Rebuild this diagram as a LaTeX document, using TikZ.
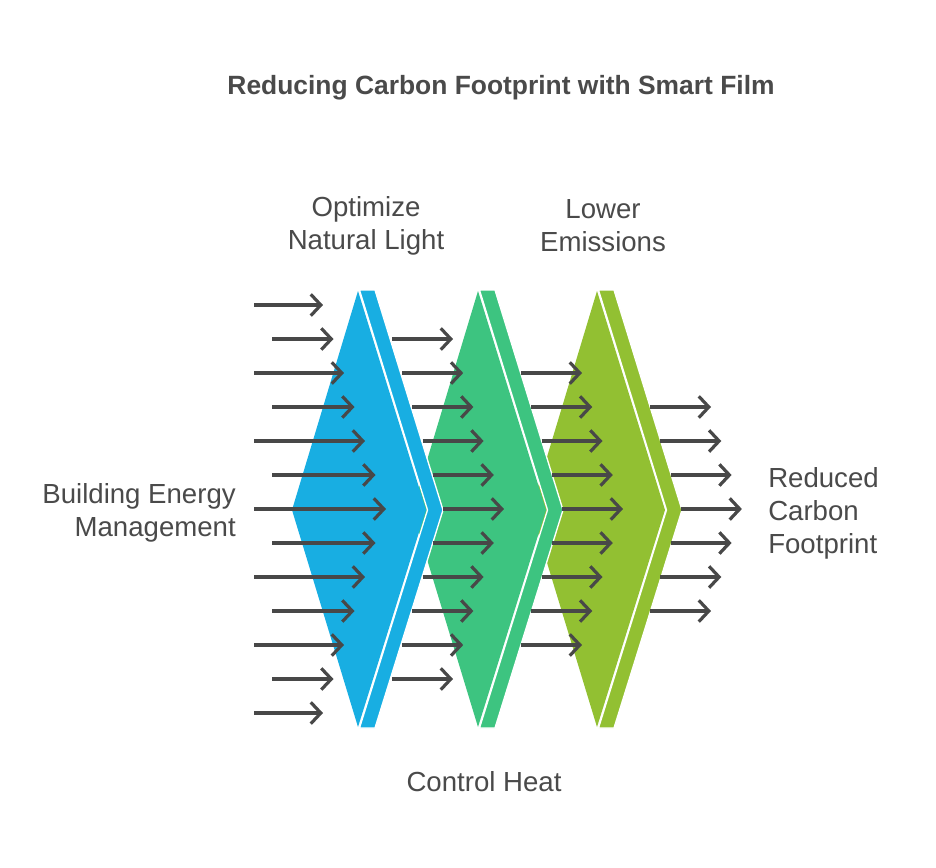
\documentclass[tikz,border=0pt]{standalone}
\usepackage{fontspec}
\setmainfont{Liberation Sans}
\usetikzlibrary{arrows.meta}
\definecolor{cblue}{RGB}{24,174,226}
\definecolor{cgreen}{RGB}{61,196,128}
\definecolor{colive}{RGB}{146,192,50}
\definecolor{ctext}{RGB}{74,74,74}
\definecolor{carrow}{RGB}{72,72,72}
\begin{document}
\begin{tikzpicture}[x=0.75pt,y=-0.75pt,
  lensmain/.style={fill=#1},
  lensstrip/.style={fill=#1, draw=white, line width=1pt, line join=miter},
  flow/.style={draw=carrow, line width=2.4pt, -{Straight Barb[length=7.5pt,width=16pt]}},
  lbl/.style={text=ctext, font=\fontsize{20.7}{24.75}\selectfont, align=center, inner sep=0pt},
  ttl/.style={text=ctext, font=\fontsize{19.8}{24}\selectfont\bfseries, inner sep=0pt}]
\useasboundingbox[fill=white] (0,0) rectangle (936,868);

% lens shapes (olive first, blue last on top)
\foreach \X/\c in {597/colive,478/cgreen,358/cblue}{
  \path[lensmain=\c] (\X,291) -- ({\X+68},510) -- (\X,727) -- ({\X-66},510) -- cycle;
  \path[lensstrip=\c] ({\X+1.5},290) -- ({\X+17},290) -- ({\X+85},510) -- ({\X+17},728)
     -- ({\X+1.5},728) -- ({\X+69.5},510) -- cycle;
}

% column 1 arrows
\foreach \i in {0,...,12}{
  \pgfmathsetmacro{\yy}{305+34*\i}
  \pgfmathsetmacro{\k}{6-abs(\i-6)}
  \pgfmathsetmacro{\xs}{isodd(\i) ? 272 : 254}
  \pgfmathsetmacro{\xe}{323+10.5*\k}
  \coordinate (ca\i) at (\xs,\yy);
  \coordinate (cb\i) at (\xe,\yy);
  \draw[flow] (ca\i) -- (cb\i);
}
% column 2 arrows
\foreach \i in {1,...,11}{
  \pgfmathsetmacro{\yy}{305+34*\i}
  \pgfmathsetmacro{\k}{5-abs(\i-6)}
  \pgfmathsetmacro{\xs}{392+10.2*\k}
  \coordinate (da\i) at (\xs,\yy);
  \coordinate (db\i) at ({\xs+61},\yy);
  \draw[flow] (da\i) -- (db\i);
}
% column 3 arrows
\foreach \i in {2,...,10}{
  \pgfmathsetmacro{\yy}{305+34*\i}
  \pgfmathsetmacro{\k}{4-abs(\i-6)}
  \pgfmathsetmacro{\xs}{521+10.25*\k}
  \coordinate (ea\i) at (\xs,\yy);
  \coordinate (eb\i) at ({\xs+61},\yy);
  \draw[flow] (ea\i) -- (eb\i);
}
% column 4 arrows
\foreach \i in {3,...,9}{
  \pgfmathsetmacro{\yy}{305+34*\i}
  \pgfmathsetmacro{\k}{3-abs(\i-6)}
  \pgfmathsetmacro{\xs}{650+10.3*\k}
  \coordinate (fa\i) at (\xs,\yy);
  \coordinate (fb\i) at ({\xs+61},\yy);
  \draw[flow] (fa\i) -- (fb\i);
}

% texts
\node[ttl] (title) at (501,88) {Reducing Carbon Footprint with Smart Film};
\node[lbl] (opt) at (366,225.5) {Optimize\\Natural Light};
\node[lbl] (low) at (603,225.5) {Lower\\Emissions};
\node[lbl, align=right, anchor=east] (bem) at (236,513) {Building Energy\\Management};
\node[lbl, align=left, anchor=west] (rcf) at (768,513) {Reduced\\Carbon\\Footprint};
\node[lbl] (heat) at (484,781.5) {Control Heat};
\end{tikzpicture}
\end{document}
